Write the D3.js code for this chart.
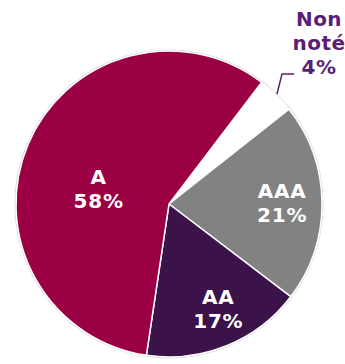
<!DOCTYPE html>
<html>
<head>
<meta charset="utf-8">
<script src="https://cdn.jsdelivr.net/npm/d3@7"></script>
<style>
  html, body { margin: 0; padding: 0; background: #ffffff; }
  svg { display: block; }
  text { font-family: "DejaVu Sans", Verdana, sans-serif; font-weight: bold; }
</style>
</head>
<body>
<svg id="chart" width="345" height="364"></svg>
<script>
// Rating breakdown, clockwise from the small unrated slice
const categories = ["Non noté", "AAA", "AA", "A"];
const shares = [4, 21, 17, 58];
const sliceColors = ["#ffffff", "#828282", "#3b1249", "#9b0044"];
const labelLines = [["Non", "noté", "4%"], ["AAA", "21%"], ["AA", "17%"], ["A", "58%"]];

const svg = d3.select("#chart");
const cx = 169, cy = 204, radius = 153;
const startDeg = 37.3;
const rad = Math.PI / 180;

const pie = d3.pie()
  .value(d => d.value)
  .sort(null)
  .startAngle(startDeg * rad)
  .endAngle((startDeg + 360) * rad);

const data = categories.map((c, i) => ({ name: c, value: shares[i], color: sliceColors[i], lines: labelLines[i] }));
const arcs = pie(data);

const arc = d3.arc().innerRadius(0).outerRadius(radius);
const g = svg.append("g").attr("transform", `translate(${cx},${cy})`);

// faint rim around the whole pie
g.append("circle").attr("r", radius + 0.8).attr("fill", "none").attr("stroke", "#dcdcdc").attr("stroke-width", 1.6);

g.selectAll("path.slice")
  .data(arcs)
  .enter().append("path")
  .attr("class", "slice")
  .attr("d", arc)
  .attr("fill", d => d.data.color)
  .attr("stroke", "#ffffff")
  .attr("stroke-width", 1.5);

// inner labels: radial fraction and angular nudge (degrees) from the slice middle
const labelPlace = { "AAA": [0.74, 0], "AA": [0.76, -3], "A": [0.47, -11] };
const lineH = 24;
arcs.filter(d => d.data.name !== "Non noté").forEach(d => {
  const [frac, nudge] = labelPlace[d.data.name];
  const a = (d.startAngle + d.endAngle) / 2 + nudge * rad;
  const x = Math.sin(a) * radius * frac;
  const y = -Math.cos(a) * radius * frac;
  const t = g.append("text")
    .attr("text-anchor", "middle")
    .attr("fill", "#ffffff")
    .attr("font-size", 20)
    .attr("letter-spacing", 0.8);
  d.data.lines.forEach((ln, i) => {
    t.append("tspan")
      .attr("x", x)
      .attr("y", y + (i - (d.data.lines.length - 1) / 2) * lineH + 7)
      .text(ln);
  });
});

// outside label with leader for the unrated slice
const small = arcs[0];
const mid = (small.startAngle + small.endAngle) / 2;
const p0 = [Math.sin(mid) * (radius + 1), -Math.cos(mid) * (radius + 1)];
const purple = "#5a1f74";
const elbow = [113, -130];
const end = [125, -130];
g.append("polyline")
  .attr("points", [p0, elbow, end].map(p => p.join(",")).join(" "))
  .attr("fill", "none")
  .attr("stroke", purple)
  .attr("stroke-width", 1.5);

const outer = g.append("text")
  .attr("text-anchor", "middle")
  .attr("fill", purple)
  .attr("font-size", 20)
  .attr("letter-spacing", 0.5);
small.data.lines.forEach((ln, i) => {
  outer.append("tspan")
    .attr("x", 150)
    .attr("y", -178 + i * 24)
    .text(ln);
});
</script>
</body>
</html>
